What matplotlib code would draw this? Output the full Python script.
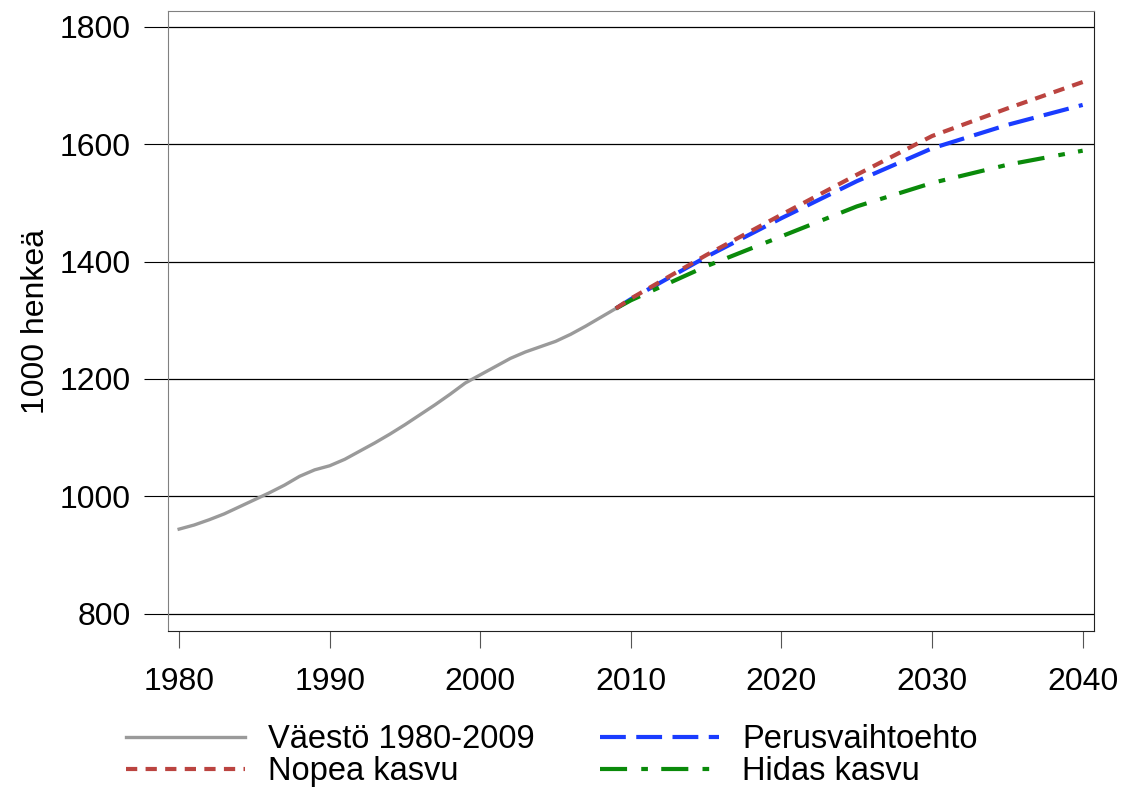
import matplotlib.pyplot as plt

plt.rcParams.update({'font.size': 23, 'font.family': 'Liberation Sans'})

# historical population 1980-2009, thousands
years_hist = list(range(1980, 2010))
pop_hist = [944, 951, 960, 970, 982, 994, 1006, 1019, 1034, 1045,
            1052, 1063, 1077, 1091, 1106, 1122, 1139, 1156, 1174, 1193,
            1207, 1221, 1235, 1246, 1255, 1264, 1276, 1290, 1305, 1320]

# projections
years_proj = [2009, 2010, 2015, 2020, 2025, 2030, 2035, 2040]
perus = [1320, 1336, 1408, 1474, 1537, 1593, 1633, 1667]
nopea = [1320, 1337, 1411, 1480, 1548, 1614, 1661, 1706]
hidas = [1320, 1334, 1392, 1443, 1494, 1534, 1565, 1589]

xticks = [1980, 1990, 2000, 2010, 2020, 2030, 2040]
yticks = [800, 1000, 1200, 1400, 1600, 1800]

fig = plt.figure(figsize=(11.36, 7.89), dpi=100)
ax = fig.add_axes([0.148, 0.2, 0.815, 0.786])

for y in yticks:
    ax.axhline(y, color='black', lw=0.9, zorder=1)

l1, = ax.plot(years_hist, pop_hist, color='#9a9a9a', lw=2.4, label='Väestö 1980-2009', zorder=3)
l3, = ax.plot(years_proj, perus, color='#1a3cff', lw=3, dashes=(6.2, 2.5), label='Perusvaihtoehto', zorder=3)
l2, = ax.plot(years_proj, nopea, color='#bb4440', lw=3, dashes=(2.7, 2.0), label='Nopea kasvu', zorder=4)
l4, = ax.plot(years_proj, hidas, color='#0a8a0a', lw=3, dashes=(6.5, 3.4, 1.6, 3.2), label='Hidas kasvu', zorder=3)

ax.set_xlim(1979.27, 2040.75)
ax.set_ylim(770, 1827)
ax.set_xticks(xticks)
ax.set_yticks(yticks)
ax.tick_params(axis='y', length=17, width=0.8, color='black', pad=10)
ax.tick_params(axis='x', length=12, width=0.8, color='#555555', pad=14)
ax.set_ylabel('1000 henkeä', labelpad=6)

ax.spines['left'].set_color('#808080')
ax.spines['top'].set_color('#808080')
ax.spines['right'].set_color('#222222')
ax.spines['bottom'].set_color('#222222')

fig.legend(handles=[l1, l2, l3, l4], ncol=2, loc='upper left',
           bbox_to_anchor=(0.111, 0.082), frameon=False, borderpad=0,
           borderaxespad=0, handlelength=3.65, handletextpad=0.7,
           columnspacing=2.0, labelspacing=0.02, fontsize=23.5)

plt.savefig('out.png', dpi=100)
